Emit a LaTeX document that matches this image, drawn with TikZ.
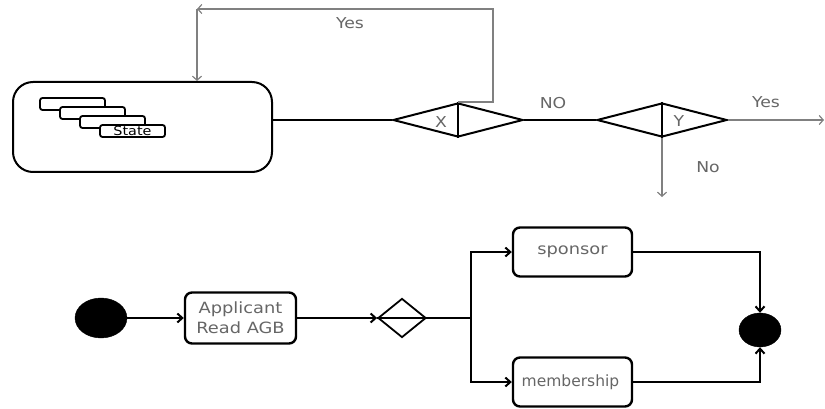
\documentclass[tikz,border=0pt]{standalone}
\usepackage{fontspec}
\setmainfont{DejaVu Sans}[FakeStretch=1.15]
\usetikzlibrary{shapes.geometric,arrows.meta}
\begin{document}
\begin{tikzpicture}[x=1pt,y=-1pt,
  lbl/.style={text=black!60,font=\fontsize{15}{20}\selectfont,inner sep=0pt},
  act/.style={draw,line width=2.4pt,rounded corners=7pt,minimum width=111pt,minimum height=51pt,inner sep=0pt,align=center,text=black!60,font=\fontsize{15.5}{20}\selectfont},
  stk/.style={draw,fill=white,line width=1.8pt,rounded corners=2.5pt,minimum width=65pt,minimum height=12pt,inner sep=0pt},
  gate/.style={draw,diamond,line width=2pt,aspect=3.82,minimum width=130pt,minimum height=34pt,inner sep=0pt},
  thin/.style={draw=black!50,line width=1.2pt},
  blk/.style={draw,line width=2pt},
  tip/.style={-{Straight Barb[length=5pt,width=9pt]}},
  gtip/.style={-{Straight Barb[length=4pt,width=9pt]}}]
\useasboundingbox (0,0) rectangle (825,409);
% top part
\node[draw,line width=2pt,rounded corners=20pt,minimum width=259pt,minimum height=90pt] (S) at (142.5,127) {};
\node[stk] (s1) at (72.5,104) {};
\node[stk] (s2) at (92.5,113) {};
\node[stk] (s3) at (112.5,122) {};
\node[stk,font=\fontsize{12.5}{13}\selectfont] (s4) at (132.5,131) {State};
\node[gate] (X) at (458,120) {};
\node[gate] (Y) at (662,120) {};
\draw[line width=2.4pt] (X.north) -- (X.south);
\draw[line width=2.4pt] (Y.north) -- (Y.south);
\node[lbl] (xl) at (441,122) {X};
\node[lbl] (yl) at (679,121) {Y};
\draw[blk] (S.east |- X.west) -- (X.west);
\draw[blk] (X.east) -- (Y.west);
\coordinate (c1) at (197,9);
\coordinate (c2) at (493,102);
\coordinate (c3) at (824,120);
\coordinate (c4) at (662,197);
\draw[thin,gtip] (X.north) -- (c2) |- (c1);
\draw[thin,gtip] (c1) -- (c1 |- S.north);
\draw[thin,gtip] (Y.east) -- (c3);
\draw[thin,gtip] (Y.south) -- (c4);
\node[lbl] (yes1) at (350,23) {Yes};
\node[lbl] (no1) at (553,103) {NO};
\node[lbl] (yes2) at (766,102) {Yes};
\node[lbl] (no2) at (708,167) {No};
% bottom part
\node[draw,fill=black,ellipse,minimum width=52pt,minimum height=40pt,inner sep=0pt] (st) at (101,318) {};
\node[act] (A) at (240.5,318) {Applicant\\Read AGB};
\node[draw,diamond,line width=1.8pt,aspect=1.23,minimum width=48pt,minimum height=39pt,inner sep=0pt] (D) at (402,318) {};
\node[act,minimum width=119pt,minimum height=49pt] (sp) at (572.5,252) {sponsor};
\node[act,minimum width=119pt,minimum height=49pt] (mb) at (572.5,382) {\hspace*{-4pt}\scalebox{0.87}[1]{membership}};
\node[draw,fill=black,ellipse,minimum width=42pt,minimum height=34pt,inner sep=0pt] (en) at (760,330) {};
\coordinate (f) at (471,318);
\draw[blk,tip] (st.east) -- (A.west);
\draw[blk,tip] (A.east) -- (D.west);
\draw[blk] (D.west) -- (f);
\draw[blk,tip] (f) |- (sp.west);
\draw[blk,tip] (f) |- (mb.west);
\draw[blk,tip] (sp.east) -| (en.north);
\draw[blk,tip] (mb.east) -| (en.south);
\end{tikzpicture}
\end{document}
